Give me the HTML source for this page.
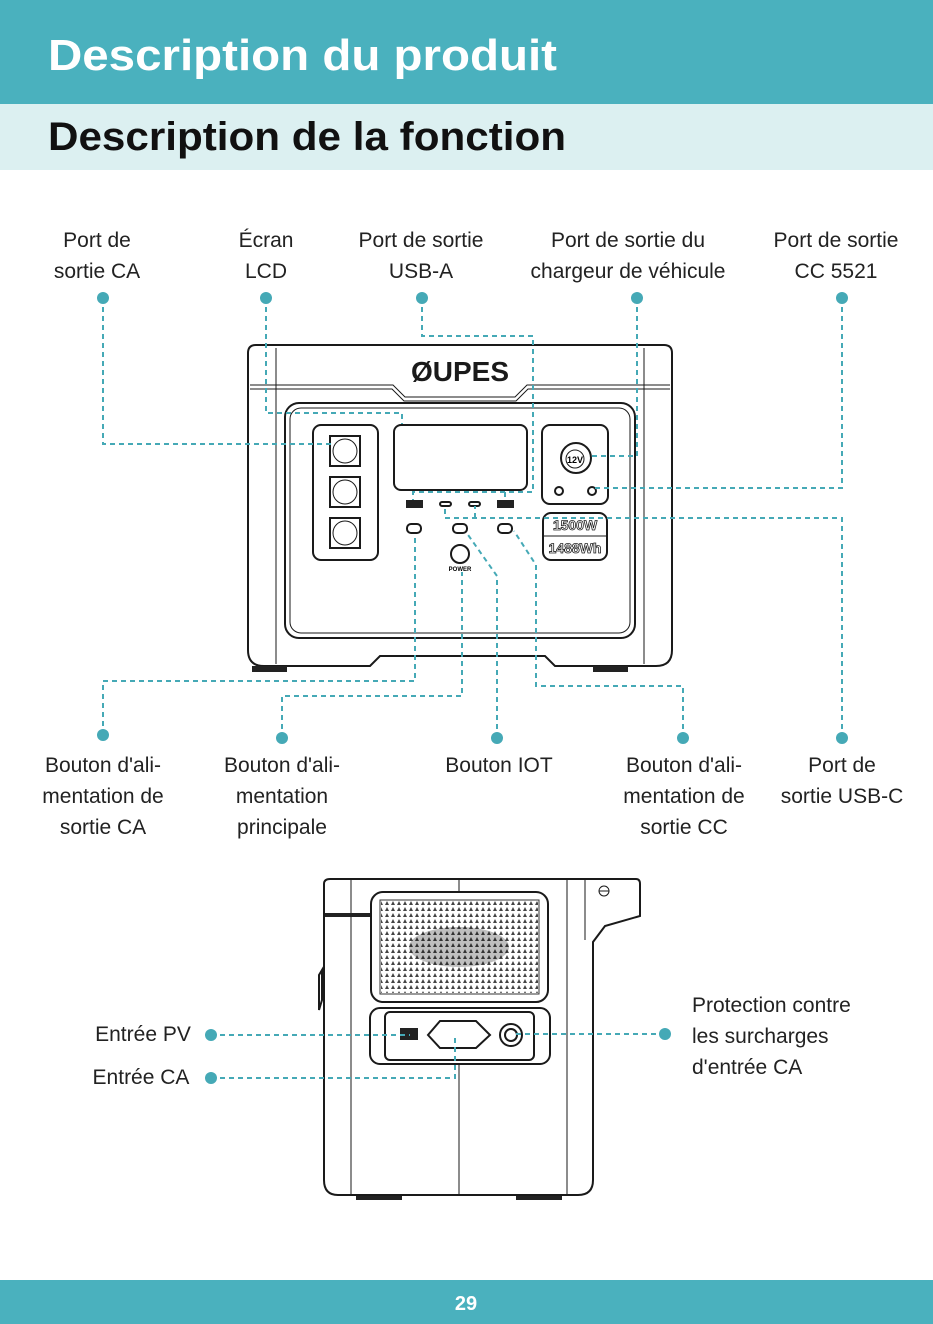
<!DOCTYPE html>
<html><head><meta charset="utf-8"><style>
html,body{margin:0;padding:0;background:#fff;}
svg{display:block;}
.lb{font-family:"Liberation Sans",sans-serif;font-size:21px;fill:#222;text-anchor:middle;}
.ls{font-family:"Liberation Sans",sans-serif;font-size:21px;fill:#222;text-anchor:start;}
.d{stroke:#45a9b6;stroke-width:2;stroke-dasharray:5 4;fill:none;}
.k{stroke:#1a1a1a;stroke-width:2;fill:none;}
.t{stroke:#1a1a1a;stroke-width:1;fill:none;}
</style></head><body>
<svg width="933" height="1324" viewBox="0 0 933 1324" xmlns="http://www.w3.org/2000/svg">
<rect x="0" y="0" width="933" height="104" fill="#4ab1be"/>
<rect x="0" y="104" width="933" height="66" fill="#dcf0f1"/>
<text x="48" y="70" font-family="Liberation Sans,sans-serif" font-weight="bold" font-size="44" fill="#fff" textLength="509" lengthAdjust="spacingAndGlyphs">Description du produit</text>
<text x="48" y="150" font-family="Liberation Sans,sans-serif" font-weight="bold" font-size="40" fill="#111" textLength="518" lengthAdjust="spacingAndGlyphs">Description de la fonction</text>
<rect x="0" y="1280" width="933" height="44" fill="#4ab1be"/>
<text x="466" y="1310" font-family="Liberation Sans,sans-serif" font-weight="bold" font-size="20" fill="#fff" text-anchor="middle">29</text>

<!-- top labels -->
<text class="lb" x="97" y="247">Port de</text><text class="lb" x="97" y="278">sortie CA</text>
<text class="lb" x="266" y="247">Écran</text><text class="lb" x="266" y="278">LCD</text>
<text class="lb" x="421" y="247">Port de sortie</text><text class="lb" x="421" y="278">USB-A</text>
<text class="lb" x="628" y="247">Port de sortie du</text><text class="lb" x="628" y="278">chargeur de véhicule</text>
<text class="lb" x="836" y="247">Port de sortie</text><text class="lb" x="836" y="278">CC 5521</text>
<!-- bottom labels -->
<text class="lb" x="103" y="772">Bouton d'ali-</text><text class="lb" x="103" y="803">mentation de</text><text class="lb" x="103" y="834">sortie CA</text>
<text class="lb" x="282" y="772">Bouton d'ali-</text><text class="lb" x="282" y="803">mentation</text><text class="lb" x="282" y="834">principale</text>
<text class="lb" x="499" y="772">Bouton IOT</text>
<text class="lb" x="684" y="772">Bouton d'ali-</text><text class="lb" x="684" y="803">mentation de</text><text class="lb" x="684" y="834">sortie CC</text>
<text class="lb" x="842" y="772">Port de</text><text class="lb" x="842" y="803">sortie USB-C</text>
<text class="lb" x="143" y="1041">Entrée PV</text>
<text class="lb" x="141" y="1084">Entrée CA</text>
<text class="ls" x="692" y="1012">Protection contre</text>
<text class="ls" x="692" y="1043">les surcharges</text>
<text class="ls" x="692" y="1074">d'entrée CA</text>

<!-- front device -->
<path class="k" d="M256 345 H664 Q672 345 672 353 V650 Q672 666 656 666 H555 L545 656 H380 L370 666 H264 Q248 666 248 650 V353 Q248 345 256 345 Z"/>
<path class="t" d="M250 385 H393 L405 397 H515 L527 385 H670"/>
<path class="t" d="M250 389 H392 L404 401 H516 L528 389 H670"/>
<line class="t" x1="276" y1="348" x2="276" y2="664"/><line class="t" x1="644" y1="348" x2="644" y2="664"/>
<rect class="k" x="285" y="403" width="350" height="235" rx="14"/>
<rect class="t" x="290" y="408" width="340" height="225" rx="11"/>
<path d="M252 666 h35 v6 h-35z M593 666 h35 v6 h-35z" fill="#222"/>
<text x="460" y="381" font-family="Liberation Sans,sans-serif" font-weight="bold" font-size="28" fill="#1a1a1a" text-anchor="middle">ØUPES</text>
<rect class="k" x="313" y="425" width="65" height="135" rx="8"/>
<rect class="k" x="330" y="436" width="30" height="30"/><rect class="k" x="330" y="477" width="30" height="30"/><rect class="k" x="330" y="518" width="30" height="30"/>
<circle class="t" cx="345" cy="451" r="12"/><circle class="t" cx="345" cy="492" r="12"/><circle class="t" cx="345" cy="533" r="12"/>
<rect class="k" x="394" y="425" width="133" height="65" rx="7"/>
<rect class="k" x="542" y="425" width="66" height="79" rx="8"/>
<circle class="k" cx="576" cy="458" r="15"/><circle class="t" cx="575" cy="459" r="9"/>
<text x="575" y="463" font-family="Liberation Sans,sans-serif" font-size="9" font-weight="bold" text-anchor="middle">12V</text>
<circle class="k" cx="559" cy="491" r="4"/><circle class="k" cx="592" cy="491" r="4"/>
<rect class="k" x="543" y="513" width="64" height="47" rx="8"/><line class="t" x1="543" y1="536" x2="607" y2="536"/>
<text x="575" y="530" font-family="Liberation Sans,sans-serif" font-size="14" font-weight="bold" text-anchor="middle" fill="#fff" stroke="#222" stroke-width="0.8">1500W</text>
<text x="575" y="553" font-family="Liberation Sans,sans-serif" font-size="14" font-weight="bold" text-anchor="middle" fill="#fff" stroke="#222" stroke-width="0.8">1488Wh</text>
<rect x="406" y="500" width="17" height="8" fill="#222"/><rect x="497" y="500" width="17" height="8" fill="#222"/>
<rect class="k" x="440" y="502" width="11" height="4" rx="2"/><rect class="k" x="469" y="502" width="11" height="4" rx="2"/>
<rect class="k" x="407" y="524" width="14" height="9" rx="4"/><rect class="k" x="453" y="524" width="14" height="9" rx="4"/><rect class="k" x="498" y="524" width="14" height="9" rx="4"/>
<circle class="k" cx="460" cy="554" r="9"/>
<text x="460" y="571" font-family="Liberation Sans,sans-serif" font-size="6" font-weight="bold" text-anchor="middle">POWER</text>

<!-- front connectors -->
<path class="d" d="M103 298 V444 H332"/>
<path class="d" d="M266 298 V413 H402 V424"/>
<path class="d" d="M422 298 V336 H533 V492 H413 V500 M505 492 V500"/>
<path class="d" d="M637 298 V456 H590"/>
<path class="d" d="M842 298 V488 H594"/>
<path class="d" d="M842 738 V518 H445 V506 M475 518 V506"/>
<path class="d" d="M103 735 V681 H415 V536"/>
<path class="d" d="M282 738 V696 H462 V572"/>
<path class="d" d="M497 738 V576 L466 532"/>
<path class="d" d="M683 738 V686 H536 V565 L514 531"/>
<g fill="#45a9b6">
<circle cx="103" cy="298" r="6"/><circle cx="266" cy="298" r="6"/><circle cx="422" cy="298" r="6"/><circle cx="637" cy="298" r="6"/><circle cx="842" cy="298" r="6"/>
<circle cx="103" cy="735" r="6"/><circle cx="282" cy="738" r="6"/><circle cx="497" cy="738" r="6"/><circle cx="683" cy="738" r="6"/><circle cx="842" cy="738" r="6"/>
<circle cx="211" cy="1035" r="6"/><circle cx="211" cy="1078" r="6"/><circle cx="665" cy="1034" r="6"/>
</g>

<!-- back device -->
<path class="k" d="M330 879 H636 Q640 879 640 884 V916 L605 926 L593 942 V1180 Q593 1195 578 1195 H338 Q324 1195 324 1180 V884 Q324 879 330 879 Z"/>
<line class="t" x1="351" y1="880" x2="351" y2="1195"/>
<line class="t" x1="459" y1="880" x2="459" y2="893"/><line class="t" x1="459" y1="1064" x2="459" y2="1195"/>
<line class="t" x1="567" y1="880" x2="567" y2="1195"/>
<line class="t" x1="585" y1="880" x2="585" y2="940"/>
<rect x="325" y="913" width="46" height="4" fill="#222"/>
<circle class="t" cx="604" cy="891" r="5"/><line class="t" x1="599" y1="891" x2="609" y2="891"/>
<path class="k" d="M322 970 v30 l-3 10 v-35z"/>
<rect class="k" x="371" y="892" width="177" height="110" rx="12"/>
<rect x="380" y="900" width="159" height="94" fill="#fff" stroke="#333" stroke-width="1"/>
<pattern id="p" width="6" height="6" patternUnits="userSpaceOnUse"><path d="M1 5 L3 1 L5 5Z" fill="#444"/></pattern>
<rect x="381" y="901" width="157" height="92" fill="url(#p)"/>
<ellipse cx="459" cy="947" rx="50" ry="20" fill="#000" opacity="0.25"/>
<rect class="k" x="370" y="1008" width="180" height="56" rx="10"/>
<rect class="k" x="385" y="1012" width="149" height="48" rx="5"/>
<rect x="400" y="1028" width="18" height="12" fill="#222"/>
<path class="k" d="M440 1021 H476 L490 1035 L476 1048 H440 L428 1035 Z"/>
<circle class="k" cx="511" cy="1035" r="11"/><circle class="k" cx="511" cy="1035" r="6"/>
<path d="M356 1196 h46 v4 h-46z M516 1196 h46 v4 h-46z" fill="#222"/>
<path class="d" d="M211 1035 H410"/>
<path class="d" d="M211 1078 H455 V1035"/>
<path class="d" d="M665 1034 H512"/>
</svg>
</body></html>
